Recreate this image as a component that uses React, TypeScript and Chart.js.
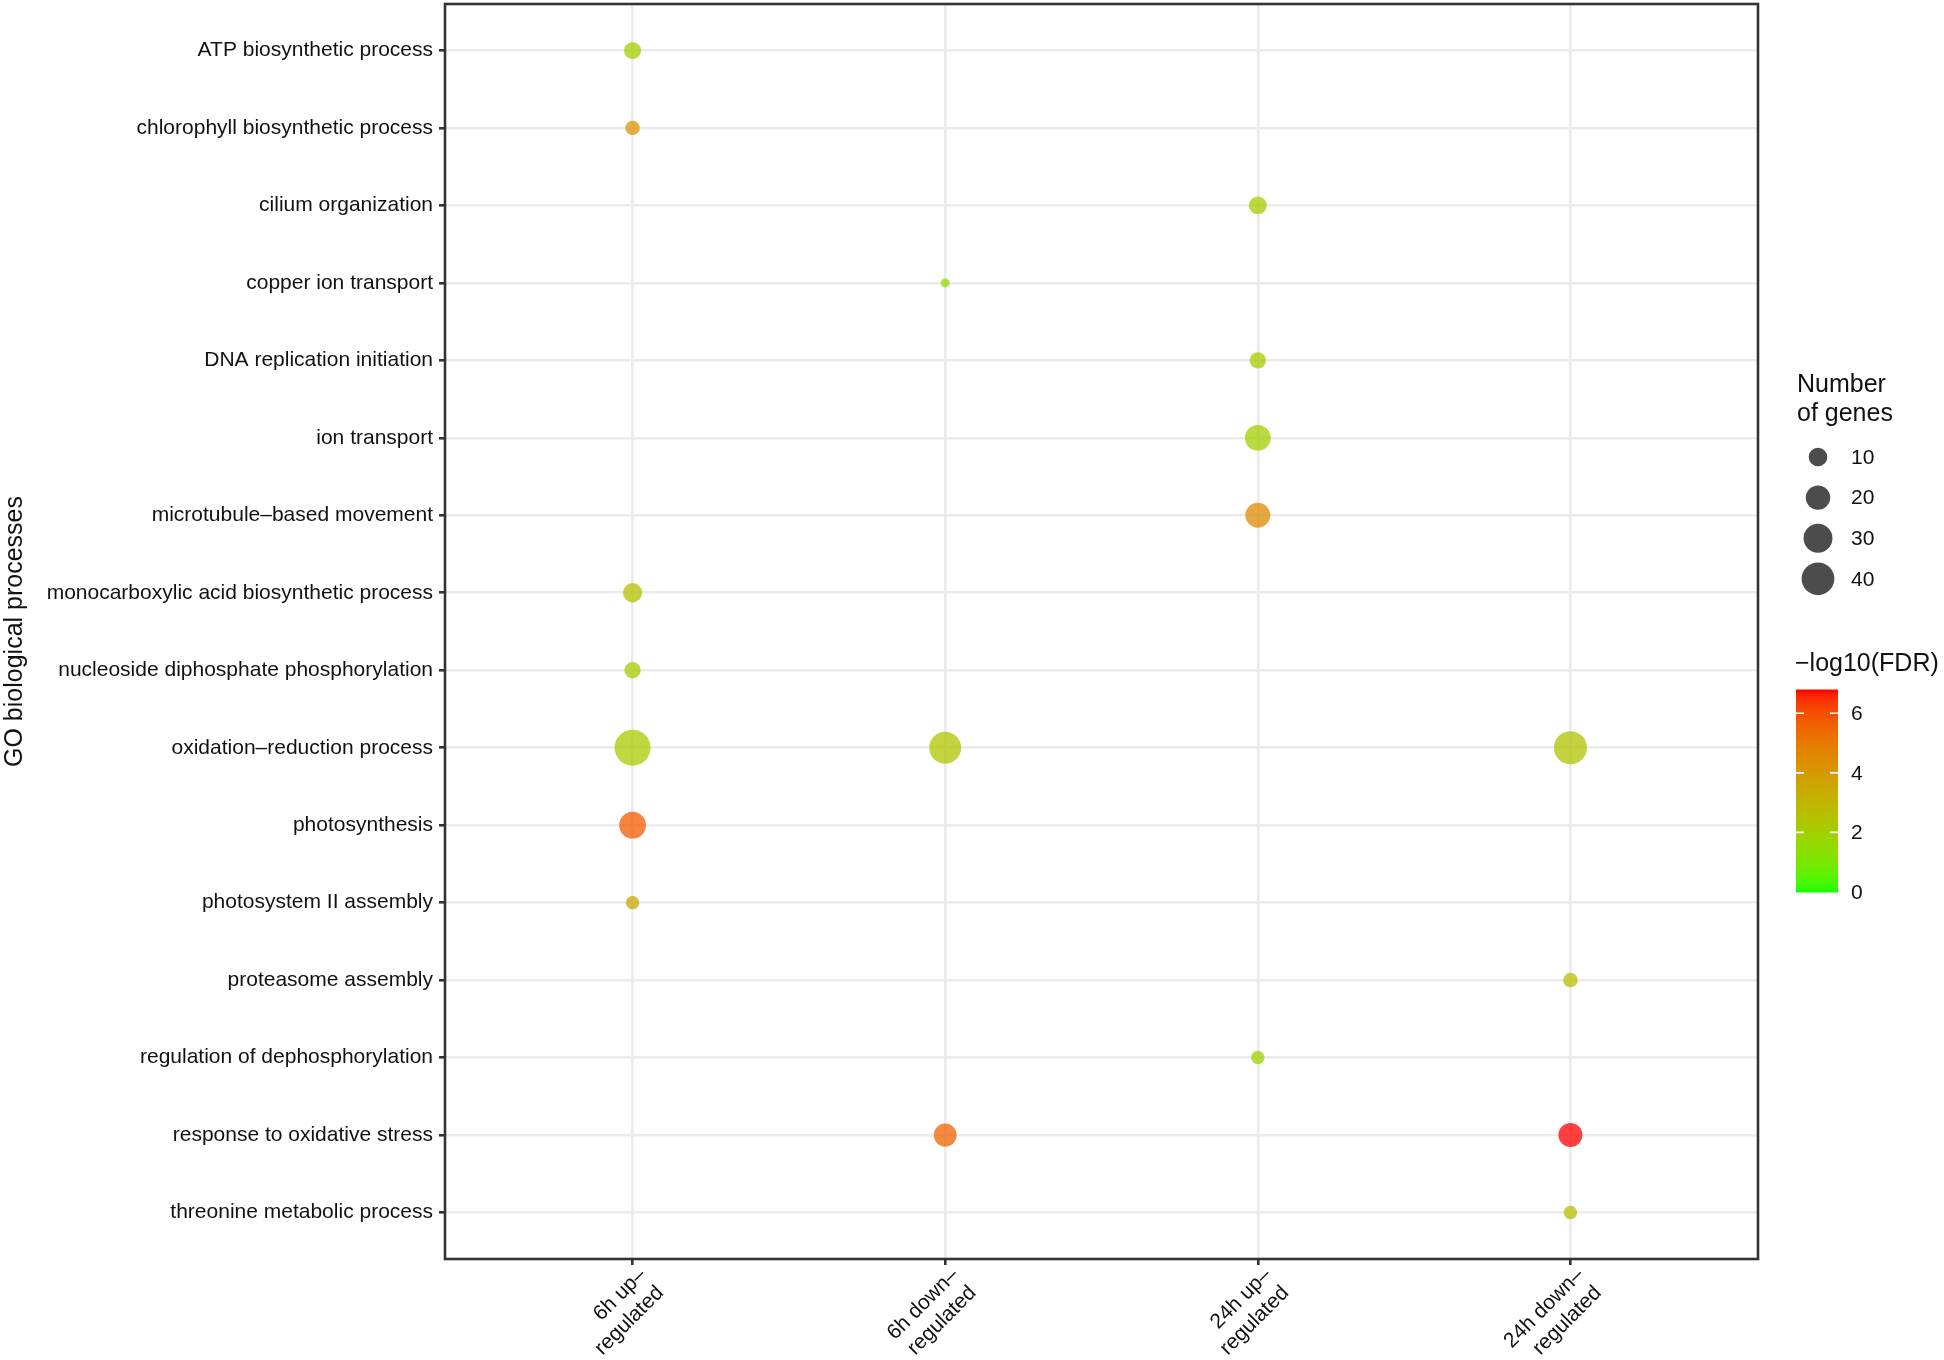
import React, { useEffect, useRef } from "react";
import { Chart, registerables } from "chart.js";

Chart.register(...registerables);

// ---------------- data ----------------
const goTerms = [
  "ATP biosynthetic process",
  "chlorophyll biosynthetic process",
  "cilium organization",
  "copper ion transport",
  "DNA replication initiation",
  "ion transport",
  "microtubule–based movement",
  "monocarboxylic acid biosynthetic process",
  "nucleoside diphosphate phosphorylation",
  "oxidation–reduction process",
  "photosynthesis",
  "photosystem II assembly",
  "proteasome assembly",
  "regulation of dephosphorylation",
  "response to oxidative stress",
  "threonine metabolic process",
];

const groupLabels = [
  ["6h up–", "regulated"],
  ["6h down–", "regulated"],
  ["24h up–", "regulated"],
  ["24h down–", "regulated"],
];

// one entry per dot
const pointTerm = [
  "ATP biosynthetic process",
  "chlorophyll biosynthetic process",
  "monocarboxylic acid biosynthetic process",
  "nucleoside diphosphate phosphorylation",
  "oxidation–reduction process",
  "photosynthesis",
  "photosystem II assembly",
  "copper ion transport",
  "oxidation–reduction process",
  "response to oxidative stress",
  "cilium organization",
  "DNA replication initiation",
  "ion transport",
  "microtubule–based movement",
  "regulation of dephosphorylation",
  "oxidation–reduction process",
  "proteasome assembly",
  "response to oxidative stress",
  "threonine metabolic process",
];
const pointGroup = [0, 0, 0, 0, 0, 0, 0, 1, 1, 1, 2, 2, 2, 2, 2, 3, 3, 3, 3];
const pointGenes = [8, 5, 11, 7, 50, 25, 4, 1, 38, 17, 9, 7, 23, 21, 4, 41, 5, 19, 4];
const pointLogFdr = [2.0, 4.2, 2.6, 2.0, 2.2, 5.8, 3.5, 1.6, 2.4, 5.6, 2.1, 2.1, 2.0, 4.5, 1.9, 2.5, 2.7, 6.78, 2.7];

const sizeBreaks = [10, 20, 30, 40];
const colorBreaks = [0, 2, 4, 6];
const colorMin = 0;
const colorMax = Math.max(...pointLogFdr);

// ---------------- scales helpers ----------------
const geneMin = Math.min(...pointGenes);
const geneMax = Math.max(...pointGenes);
const D_MIN = 9;
const D_MAX = 36;
function diam(n: number) {
  return D_MIN + ((Math.sqrt(n) - Math.sqrt(geneMin)) / (Math.sqrt(geneMax) - Math.sqrt(geneMin))) * (D_MAX - D_MIN);
}

function toLin(c: number) {
  c /= 255;
  return c <= 0.04045 ? c / 12.92 : Math.pow((c + 0.055) / 1.055, 2.4);
}
function toSrgb(v: number) {
  v = v <= 0.0031308 ? 12.92 * v : 1.055 * Math.pow(Math.max(v, 0), 1 / 2.4) - 0.055;
  return Math.round(Math.max(0, Math.min(1, v)) * 255);
}
function rgb2lab(rgb: number[]) {
  const R = toLin(rgb[0]), G = toLin(rgb[1]), B = toLin(rgb[2]);
  const X = (0.4124 * R + 0.3576 * G + 0.1805 * B) / 0.95047;
  const Y = 0.2126 * R + 0.7152 * G + 0.0722 * B;
  const Z = (0.0193 * R + 0.1192 * G + 0.9505 * B) / 1.08883;
  const f = (t: number) => (t > 0.008856 ? Math.cbrt(t) : 7.787 * t + 16 / 116);
  const fx = f(X), fy = f(Y), fz = f(Z);
  return [116 * fy - 16, 500 * (fx - fy), 200 * (fy - fz)];
}
function lab2rgb(lab: number[]) {
  const fy = (lab[0] + 16) / 116;
  const fx = fy + lab[1] / 500;
  const fz = fy - lab[2] / 200;
  const inv = (t: number) => (t * t * t > 0.008856 ? t * t * t : (t - 16 / 116) / 7.787);
  const X = inv(fx) * 0.95047, Y = inv(fy), Z = inv(fz) * 1.08883;
  const R = 3.2406 * X - 1.5372 * Y - 0.4986 * Z;
  const G = -0.9689 * X + 1.8758 * Y + 0.0415 * Z;
  const B = 0.0557 * X - 0.204 * Y + 1.057 * Z;
  return [toSrgb(R), toSrgb(G), toSrgb(B)];
}
const LOW = rgb2lab([0, 255, 0]);
const HIGH = rgb2lab([255, 0, 0]);
function colorFor(v: number, alpha = 1) {
  const t = Math.max(0, Math.min(1, (v - colorMin) / (colorMax - colorMin)));
  const lab = [0, 1, 2].map((k) => LOW[k] + (HIGH[k] - LOW[k]) * t);
  const [r, g, b] = lab2rgb(lab);
  return `rgba(${r},${g},${b},${alpha})`;
}

const FONT = '"Liberation Sans", Arial, Helvetica, sans-serif';
const TEXT = "#111111";
const TICK_SIZE = 21;

const overlayPlugin = {
  id: "overlay",
  afterDraw(chart: any) {
    const { ctx, chartArea: a } = chart;
    ctx.save();
    // panel border
    ctx.strokeStyle = "#333333";
    ctx.lineWidth = 2.6;
    ctx.strokeRect(a.left, a.top, a.right - a.left, a.bottom - a.top);

    // size legend
    ctx.fillStyle = TEXT;
    ctx.textAlign = "left";
    ctx.textBaseline = "middle";
    ctx.font = `25px ${FONT}`;
    ctx.fillText("Number", 1797, 385);
    ctx.fillText("of genes", 1797, 414);
    ctx.font = `${TICK_SIZE}px ${FONT}`;
    sizeBreaks.forEach((b, i) => {
      const y = 457 + i * 40.6;
      ctx.beginPath();
      ctx.arc(1818, y, diam(b) / 2, 0, Math.PI * 2);
      ctx.fillStyle = "rgba(0,0,0,0.7)";
      ctx.fill();
      ctx.fillStyle = TEXT;
      ctx.fillText(String(b), 1851, y + 1);
    });

    // colour legend
    ctx.font = `25px ${FONT}`;
    ctx.fillText("−log10(FDR)", 1795, 664);
    const bx0 = 1796, bx1 = 1838, by0 = 892, by1 = 690;
    const steps = 200;
    for (let s = 0; s < steps; s++) {
      const v0 = colorMin + ((colorMax - colorMin) * s) / steps;
      const yA = by0 - ((by0 - by1) * s) / steps;
      const yB = by0 - ((by0 - by1) * (s + 1)) / steps;
      ctx.fillStyle = colorFor(v0 + (colorMax - colorMin) / steps / 2);
      ctx.fillRect(bx0, yB - 0.5, bx1 - bx0, yA - yB + 1);
    }
    ctx.strokeStyle = "#ffffff";
    ctx.lineWidth = 1.6;
    ctx.font = `${TICK_SIZE}px ${FONT}`;
    colorBreaks.forEach((b) => {
      const y = by0 - ((b - colorMin) / (colorMax - colorMin)) * (by0 - by1);
      if (b > colorMin) {
        ctx.beginPath();
        ctx.moveTo(bx0, y);
        ctx.lineTo(bx0 + 8, y);
        ctx.moveTo(bx1 - 8, y);
        ctx.lineTo(bx1, y);
        ctx.stroke();
      }
      ctx.fillStyle = TEXT;
      ctx.fillText(String(b), 1851, y + 1);
    });
    ctx.restore();
  },
};

export default function App() {
  const ref = useRef<HTMLCanvasElement | null>(null);

  useEffect(() => {
    if (!ref.current) return;
    Chart.defaults.font.family = FONT;
    const data = pointTerm.map((t, i) => ({
      x: pointGroup[i] + 1,
      y: goTerms.indexOf(t) + 1,
      n: pointGenes[i],
      v: pointLogFdr[i],
    }));
    const gridCommon = {
      color: "#ebebeb",
      lineWidth: 2.6,
      tickColor: "#333333",
      tickWidth: 2.6,
      tickLength: 6,
      drawTicks: true,
    };
    const chart = new Chart(ref.current, {
      type: "scatter",
      data: {
        datasets: [
          {
            data,
            pointRadius: (c: any) => (c.raw ? diam(c.raw.n) / 2 : 0),
            pointBackgroundColor: (c: any) => (c.raw ? colorFor(c.raw.v, 0.75) : "transparent"),
            pointBorderWidth: 0,
            pointBorderColor: "transparent",
            pointHoverRadius: (c: any) => (c.raw ? diam(c.raw.n) / 2 : 0),
          } as any,
        ],
      },
      options: {
        responsive: false,
        animation: false,
        events: [],
        layout: { autoPadding: false, padding: { left: 0, right: 186, top: 4, bottom: 0 } },
        plugins: { legend: { display: false }, tooltip: { enabled: false } },
        scales: {
          x: {
            type: "linear",
            position: "bottom",
            min: 0.4,
            max: groupLabels.length + 0.6,
            afterBuildTicks: (s: any) => {
              s.ticks = groupLabels.map((_, i) => ({ value: i + 1 }));
            },
            afterFit: (s: any) => {
              s.height = 101;
              s.paddingLeft = 0;
              s.paddingRight = 0;
            },
            ticks: {
              autoSkip: false,
              minRotation: 45,
              maxRotation: 45,
              padding: -2,
              labelOffset: 10,
              color: TEXT,
              font: { size: TICK_SIZE, family: FONT },
              callback: (v: any) => groupLabels[Math.round(v) - 1] as any,
            },
            grid: gridCommon as any,
            border: { display: false },
          },
          y: {
            type: "linear",
            reverse: true,
            min: 0.4,
            max: goTerms.length + 0.6,
            afterBuildTicks: (s: any) => {
              s.ticks = goTerms.map((_, i) => ({ value: i + 1 }));
            },
            afterFit: (s: any) => {
              s.width = 445;
              s.paddingTop = 0;
              s.paddingBottom = 0;
            },
            ticks: {
              autoSkip: false,
              padding: 6,
              color: TEXT,
              font: { size: TICK_SIZE, family: FONT },
              callback: (v: any) => goTerms[Math.round(v) - 1],
            },
            grid: gridCommon as any,
            border: { display: false },
            title: {
              display: true,
              text: "GO biological processes",
              color: TEXT,
              font: { size: 25, family: FONT },
              padding: 0,
            },
          },
        },
      } as any,
      plugins: [overlayPlugin],
    });
    return () => chart.destroy();
  }, []);

  return (
    <div style={{ position: "fixed", left: 0, top: 0, width: 1944, height: 1360, background: "#ffffff" }}>
      <canvas ref={ref} width={1944} height={1360} style={{ display: "block", width: 1944, height: 1360 }} />
    </div>
  );
}
